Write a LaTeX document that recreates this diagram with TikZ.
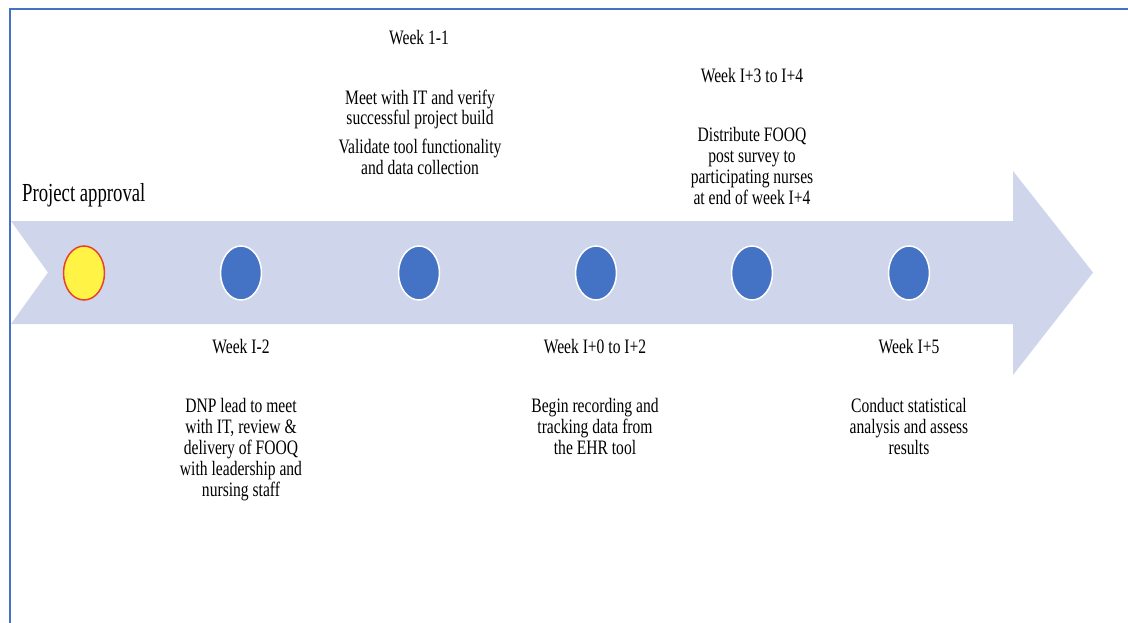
\documentclass[tikz,border=0pt]{standalone}
\usepackage{fontspec}
\setmainfont{Liberation Serif}[FakeStretch=0.76]
\newfontfamily\bigfont{Liberation Serif}[FakeStretch=0.72]
\usetikzlibrary{shapes.geometric}
\definecolor{framecol}{HTML}{4472C4}
\definecolor{arrowcol}{HTML}{CFD5EA}
\definecolor{dotblue}{HTML}{4472C4}
\definecolor{dotyellow}{HTML}{FFF445}
\definecolor{dotred}{HTML}{E8432E}
\tikzset{
  milestone/.style={ellipse, draw=white, line width=1.5pt, fill=dotblue,
    minimum width=41pt, minimum height=54pt, inner sep=0pt},
  startdot/.style={milestone, draw=dotred, fill=dotyellow},
  weeklabel/.style={anchor=base, inner sep=0pt, font=\fontsize{20.5}{21}\selectfont},
  desc/.style={anchor=north, inner sep=0pt, align=center, font=\fontsize{20.5}{21}\selectfont},
}
\begin{document}
\begin{tikzpicture}[x=1pt,y=-1pt]
\useasboundingbox (0,0) rectangle (1128,623);
% frame
\draw[framecol, line width=1.5pt] (10,623) -- (10,9) -- (1128,9);
% timeline arrow
\fill[arrowcol] (11,221) -- (1013,221) -- (1013,171) -- (1093,272.5) -- (1013,375)
  -- (1013,324) -- (11,324) -- (48,272.5) -- cycle;
% milestones
\node[startdot] (m0) at (84,273) {};
\node[milestone] (m1) at (241,273) {};
\node[milestone] (m2) at (419,273) {};
\node[milestone] (m3) at (596,273) {};
\node[milestone] (m4) at (752,273) {};
\node[milestone] (m5) at (909,273) {};
% texts
\node[anchor=base west, inner sep=0pt, font=\bigfont\fontsize{26}{26}\selectfont] (t0) at (22,202) {Project approval};
\node[weeklabel] (w2) at (419,45) {Week 1-1};
\node[desc, font=\fontsize{20.5}{20}\selectfont] (d2a) at (420,90) {Meet with IT and verify\\successful project build};
\node[desc] (d2b) at (420,139) {Validate tool functionality\\and data collection};
\node[weeklabel] (w4) at (752,83) {Week I+3 to I+4};
\node[desc] (d4) at (752,127) {Distribute FOOQ\\post survey to\\participating nurses\\at end of week I+4};
\node[weeklabel] (w1) at (241,353) {Week I-2};
\node[desc] (d1) at (241,398) {DNP lead to meet\\with IT, review \&\\delivery of FOOQ\\with leadership and\\nursing staff};
\node[weeklabel] (w3) at (595,353) {Week I+0 to I+2};
\node[desc] (d3) at (595,398) {Begin recording and\\tracking data from\\the EHR tool};
\node[weeklabel] (w5) at (909,353) {Week I+5};
\node[desc] (d5) at (909,398) {Conduct statistical\\analysis and assess\\results};
\end{tikzpicture}
\end{document}
